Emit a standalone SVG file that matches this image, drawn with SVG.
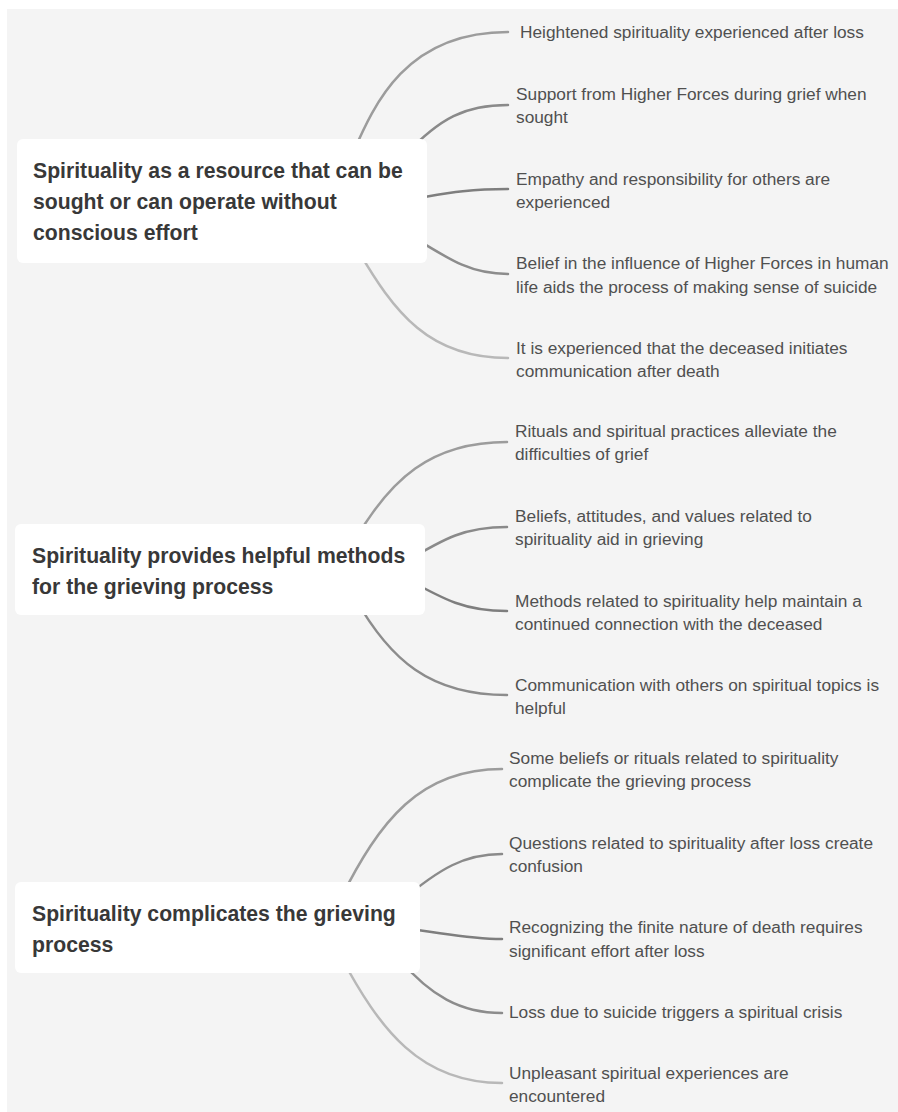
<svg xmlns="http://www.w3.org/2000/svg" width="898" height="1112" viewBox="0 0 898 1112">
<style>
.bg{fill:#f4f4f4}
.box{fill:#ffffff}
.title{font-family:"Liberation Sans",Arial,sans-serif;font-weight:700;font-size:21.2px;fill:#383838}
.item{font-family:"Liberation Sans",Arial,sans-serif;font-size:17.3px;fill:#505050}
.c{fill:none;stroke-width:2.5;stroke-linecap:round}
.k1{stroke:#9c9c9c}.k2{stroke:#8a8a8a}.k3{stroke:#7e7e7e}.k4{stroke:#8c8c8c}.k5{stroke:#b8b8b8}
</style>
<rect width="898" height="1112" fill="#ffffff"/>
<rect class="bg" x="7" y="9" width="891" height="1103"/>
<g id="connectors">
<path class="c k1" d="M352,155 C374,105 405,32 508,32"/>
<path class="c k2" d="M405,155 C440,118 465,105 508,105"/>
<path class="c k3" d="M400,201 C440,195 460,189 508,189"/>
<path class="c k4" d="M405,232 C450,260 470,274 508,274"/>
<path class="c k5" d="M355,245 C395,315 430,358 508,358"/>
<path class="c k1" d="M355,540 C390,480 430,442 507,442"/>
<path class="c k2" d="M405,562 C445,538 465,527 507,527"/>
<path class="c k3" d="M405,578 C445,600 465,611 507,611"/>
<path class="c k4" d="M355,598 C390,660 430,695 507,695"/>
<path class="c k1" d="M340,900 C380,820 420,769 502,769"/>
<path class="c k2" d="M400,902 C440,868 465,854 502,854"/>
<path class="c k3" d="M400,928 C440,932 465,939 502,939"/>
<path class="c k4" d="M400,960 C430,995 460,1013 502,1013"/>
<path class="c k5" d="M340,955 C380,1030 420,1083 502,1083"/>
</g>
<g id="node1">
<rect class="box" x="17" y="139" width="410" height="124" rx="6"/>
<text class="title" x="33" y="178">Spirituality as a resource that can be</text>
<text class="title" x="33" y="209">sought or can operate without</text>
<text class="title" x="33" y="240">conscious effort</text>
</g>
<g id="node2">
<rect class="box" x="15" y="524" width="410" height="91" rx="6"/>
<text class="title" x="32" y="563">Spirituality provides helpful methods</text>
<text class="title" x="32" y="594">for the grieving process</text>
</g>
<g id="node3">
<rect class="box" x="15" y="882" width="405" height="91" rx="6"/>
<text class="title" x="32" y="921">Spirituality complicates the grieving</text>
<text class="title" x="32" y="952">process</text>
</g>
<g id="n1a"><text class="item" x="520" y="38">Heightened spirituality experienced after loss</text></g>
<g id="n1b"><text class="item" x="516" y="100">Support from Higher Forces during grief when</text><text class="item" x="516" y="123">sought</text></g>
<g id="n1c"><text class="item" x="516" y="185">Empathy and responsibility for others are</text><text class="item" x="516" y="208">experienced</text></g>
<g id="n1d"><text class="item" x="516" y="269">Belief in the influence of Higher Forces in human</text><text class="item" x="516" y="293">life aids the process of making sense of suicide</text></g>
<g id="n1e"><text class="item" x="516" y="354">It is experienced that the deceased initiates</text><text class="item" x="516" y="377">communication after death</text></g>
<g id="n2a"><text class="item" x="515" y="437">Rituals and spiritual practices alleviate the</text><text class="item" x="515" y="460">difficulties of grief</text></g>
<g id="n2b"><text class="item" x="515" y="522">Beliefs, attitudes, and values related to</text><text class="item" x="515" y="545">spirituality aid in grieving</text></g>
<g id="n2c"><text class="item" x="515" y="607">Methods related to spirituality help maintain a</text><text class="item" x="515" y="630">continued connection with the deceased</text></g>
<g id="n2d"><text class="item" x="515" y="691">Communication with others on spiritual topics is</text><text class="item" x="515" y="714">helpful</text></g>
<g id="n3a"><text class="item" x="509" y="764">Some beliefs or rituals related to spirituality</text><text class="item" x="509" y="787">complicate the grieving process</text></g>
<g id="n3b"><text class="item" x="509" y="849">Questions related to spirituality after loss create</text><text class="item" x="509" y="872">confusion</text></g>
<g id="n3c"><text class="item" x="509" y="933">Recognizing the finite nature of death requires</text><text class="item" x="509" y="957">significant effort after loss</text></g>
<g id="n3d"><text class="item" x="509" y="1018">Loss due to suicide triggers a spiritual crisis</text></g>
<g id="n3e"><text class="item" x="509" y="1079">Unpleasant spiritual experiences are</text><text class="item" x="509" y="1102">encountered</text></g>
</svg>
